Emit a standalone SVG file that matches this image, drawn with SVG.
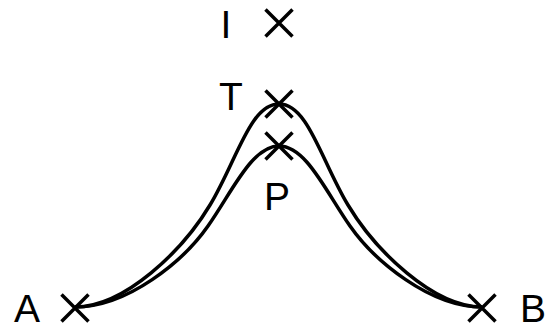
<svg xmlns="http://www.w3.org/2000/svg" width="556" height="329" viewBox="0 0 556 329">
<style>
.lbl{font-family:"Liberation Sans",Arial,sans-serif;font-size:39px;fill:#000;text-anchor:middle}
.x{stroke:#000;stroke-width:3.5;fill:none}
.c{stroke:#000;stroke-width:3.5;fill:none}
</style>
<defs>
<path id="cross" d="M-13.5,-13.5L13.5,13.5M-13.5,13.5L13.5,-13.5"/>
</defs>
<g id="connectors">
<path class="c" d="M75,307 C125,307 183,250 210,205 C237,160 250,104 279,104 C308,104 321,160 348,205 C375,250 433,307 482,307"/>
<path class="c" d="M75,307 C128,307 183.5,261 208,226 C232.5,191 252,146 279,146 C306,146 325.5,191 350,226 C374.5,261 430,307 482,307"/>
</g>
<g id="I"><use href="#cross" class="x" x="279" y="23"/><text class="lbl" x="226" y="38">I</text></g>
<g id="T"><use href="#cross" class="x" x="279" y="104"/><text class="lbl" x="231" y="110">T</text></g>
<g id="P"><use href="#cross" class="x" x="279" y="146"/><text class="lbl" x="277" y="210">P</text></g>
<g id="A"><use href="#cross" class="x" x="75" y="308"/><text class="lbl" x="27" y="322">A</text></g>
<g id="B"><use href="#cross" class="x" x="482" y="308"/><text class="lbl" x="533" y="322">B</text></g>
</svg>
